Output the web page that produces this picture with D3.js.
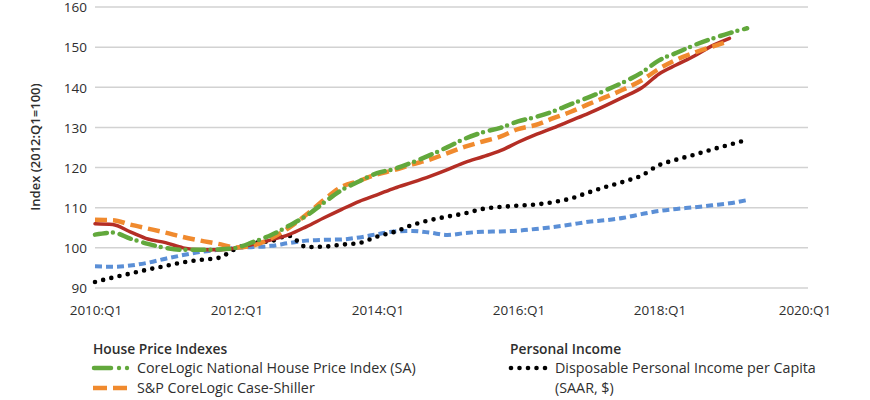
<!DOCTYPE html>
<html>
<head>
<meta charset="utf-8">
<script src="https://cdn.jsdelivr.net/npm/d3@7"></script>
<style>
  html, body { margin: 0; padding: 0; background: #fff; }
  svg { display: block; }
  text { font-family: "Open Sans", sans-serif; fill: #2e2e2e; }
</style>
</head>
<body>
<svg id="chart" width="870" height="400"></svg>
<script>
// Quarterly data, 2010:Q1 onward
const startYear = 2010;
const coreLogic = [103.3,103.8,102.3,101.0,100.0,99.5,99.5,99.6,100.0,101.5,103.2,105.5,108.0,111.3,114.4,116.6,118.6,119.7,121.3,123.1,125.1,127.2,128.8,129.9,131.5,132.6,134.0,135.8,137.5,139.3,141.3,143.6,146.7,148.6,150.5,152.1,153.5,154.7];
const caseShiller = [107.0,106.9,105.8,104.8,103.8,102.7,101.8,101.0,100.1,100.6,102.4,105.0,108.3,112.0,115.2,116.7,118.3,119.4,120.8,122.0,123.6,125.2,126.5,127.7,129.6,130.6,132.3,133.9,135.8,137.6,139.5,141.7,144.6,146.9,148.6,150.1,151.5];
const redSeries = [106.0,105.8,104.0,102.2,101.3,100.0,99.5,99.5,100.0,100.9,102.0,103.3,105.3,107.5,109.6,111.6,113.2,114.9,116.3,117.8,119.5,121.3,122.7,124.2,126.3,128.2,129.9,131.7,133.5,135.5,137.6,139.8,143.3,145.6,147.8,150.3,152.2];
const blueSeries = [95.4,95.3,95.6,96.3,97.3,98.2,99.0,99.5,100.0,100.2,100.5,101.2,101.8,102.0,102.1,102.6,103.4,104.1,104.2,103.8,103.2,103.7,104.0,104.1,104.3,104.7,105.2,105.8,106.5,106.9,107.5,108.4,109.2,109.7,110.1,110.6,111.1,111.9];
const income = [91.5,92.6,93.6,94.6,95.5,96.4,97.0,97.5,99.8,101.2,101.7,103.0,100.2,100.3,100.8,101.2,102.8,104.0,105.7,106.9,107.8,108.6,109.7,110.2,110.5,110.8,111.4,112.3,113.8,115.2,116.5,118.0,120.6,122.0,123.2,124.5,125.7,126.9];

const xTickYears = [2010, 2012, 2014, 2016, 2018, 2020];
const xTickLabels = ["2010:Q1", "2012:Q1", "2014:Q1", "2016:Q1", "2018:Q1", "2020:Q1"];
const yTicks = [90, 100, 110, 120, 130, 140, 150, 160];
const yTitle = "Index (2012:Q1=100)";

const legendGroups = [
  { title: "House Price Indexes", entries: ["CoreLogic National House Price Index (SA)", "S&P CoreLogic Case-Shiller"] },
  { title: "Personal Income", entries: ["Disposable Personal Income per Capita", "(SAAR, $)"] }
];

const svg = d3.select("#chart");
const x = d3.scaleLinear().domain([2010, 2020]).range([95, 800]);
const y = d3.scaleLinear().domain([90, 160]).range([288, 7]);

// gridlines
svg.append("g").selectAll("line").data(yTicks).join("line")
  .attr("x1", 95).attr("x2", 808)
  .attr("y1", d => y(d)).attr("y2", d => y(d))
  .attr("stroke", "#d2d2d2").attr("stroke-width", 1.5);

// y tick labels
svg.append("g").selectAll("text").data(yTicks).join("text")
  .attr("x", 87).attr("y", d => y(d) + 0.5).attr("dy", "0.35em")
  .attr("text-anchor", "end").attr("font-size", 13.5).text(d => d);

// x tick labels
svg.append("g").selectAll("text").data(xTickYears).join("text")
  .attr("x", d => x(d) + (d === 2020 ? 5 : 1)).attr("y", 310).attr("dy", "0.35em")
  .attr("text-anchor", "middle").attr("font-size", 13.5)
  .text((d, i) => xTickLabels[i]);

// y title
svg.append("text")
  .attr("transform", "translate(35,147) rotate(-90)")
  .attr("text-anchor", "middle").attr("dy", "0.35em")
  .attr("font-size", 13).attr("font-weight", 600)
  .text(yTitle);

const line = d3.line()
  .x((d, i) => x(startYear + i / 4))
  .y(d => y(d))
  .curve(d3.curveMonotoneX);

const series = [
  { data: blueSeries, color: "#5b8fd6", width: 4, dash: "7,4", cap: "butt" },
  { data: income, color: "#000", width: 4.6, dash: "0,8.4", cap: "round" },
  { data: redSeries, color: "#b42e25", width: 3.5, dash: null, cap: "round" },
  { data: caseShiller, color: "#f08a2e", width: 4.5, dash: "12,6", cap: "butt" },
  { data: coreLogic, color: "#62a83c", width: 4.5, dash: "12,6,0,7", cap: "round" }
];

svg.append("g").selectAll("path").data(series).join("path")
  .attr("d", d => line(d.data))
  .attr("fill", "none")
  .attr("stroke", d => d.color)
  .attr("stroke-width", d => d.width)
  .attr("stroke-dasharray", d => d.dash)
  .attr("stroke-linecap", d => d.cap)
  .attr("stroke-linejoin", "round");

// legend
const lg = svg.append("g");
lg.append("text").attr("x", 93).attr("y", 349).attr("dy", "0.35em")
  .attr("font-size", 13.8).attr("font-weight", 600).text(legendGroups[0].title);
lg.append("text").attr("x", 510).attr("y", 349).attr("dy", "0.35em")
  .attr("font-size", 13.8).attr("font-weight", 600).text(legendGroups[1].title);

// green symbol
lg.append("line").attr("x1", 94).attr("x2", 111).attr("y1", 368).attr("y2", 368)
  .attr("stroke", "#62a83c").attr("stroke-width", 4.5).attr("stroke-linecap", "round");
lg.selectAll(".gdot").data([119, 127]).join("circle").attr("class", "gdot")
  .attr("cx", d => d).attr("cy", 368).attr("r", 2.2).attr("fill", "#62a83c");
lg.append("text").attr("x", 137).attr("y", 368).attr("dy", "0.35em")
  .attr("font-size", 14.3).text(legendGroups[0].entries[0]);

// orange symbol
lg.append("line").attr("x1", 93).attr("x2", 129).attr("y1", 388).attr("y2", 388)
  .attr("stroke", "#f08a2e").attr("stroke-width", 4.5)
  .attr("stroke-dasharray", "14,6").attr("stroke-linecap", "butt");
lg.append("text").attr("x", 137).attr("y", 388).attr("dy", "0.35em")
  .attr("font-size", 14.3).text(legendGroups[0].entries[1]);

// black dots symbol
lg.selectAll(".bdot").data(d3.range(5)).join("circle").attr("class", "bdot")
  .attr("cx", d => 511 + d * 8.5).attr("cy", 368).attr("r", 2.3).attr("fill", "#000");
lg.append("text").attr("x", 555).attr("y", 368).attr("dy", "0.35em")
  .attr("font-size", 14.3).text(legendGroups[1].entries[0]);
lg.append("text").attr("x", 555).attr("y", 388).attr("dy", "0.35em")
  .attr("font-size", 14.3).text(legendGroups[1].entries[1]);
</script>
</body>
</html>
